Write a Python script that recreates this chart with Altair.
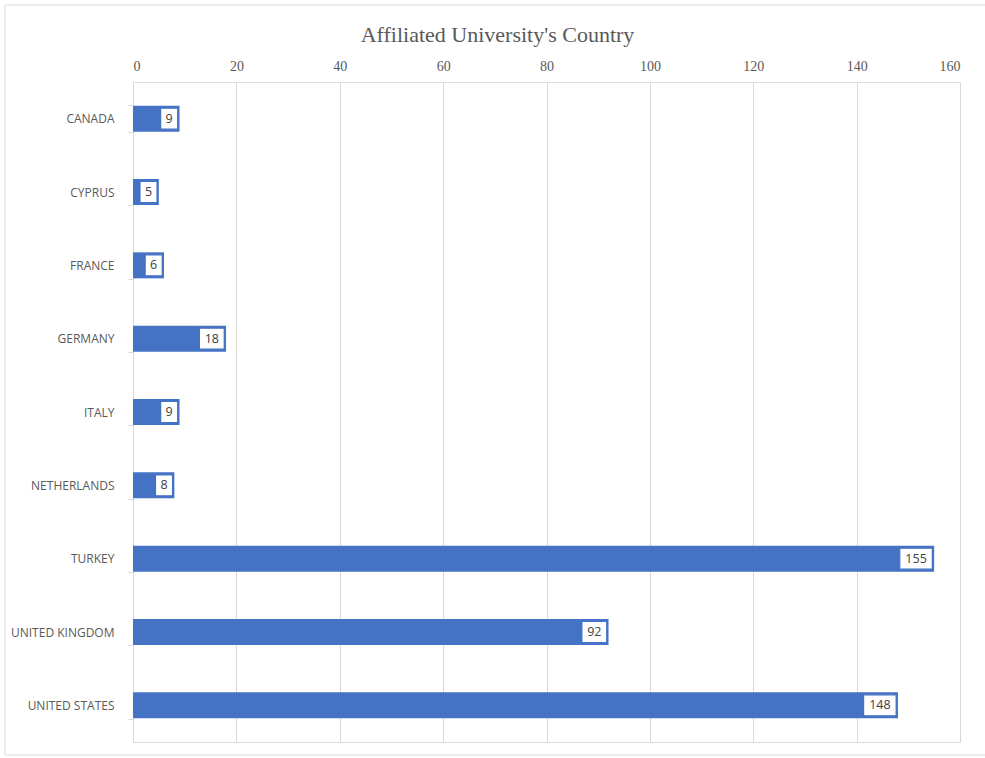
import altair as alt
import pandas as pd

countries = ["CANADA", "CYPRUS", "FRANCE", "GERMANY", "ITALY", "NETHERLANDS",
             "TURKEY", "UNITED KINGDOM", "UNITED STATES"]
counts = [9, 5, 6, 18, 9, 8, 155, 92, 148]

df = pd.DataFrame({"country": countries, "count": counts})

BLUE = "#4472C4"
W, H = 827, 660
PL, PT = 133, 82

x_scale = alt.Scale(domain=[0, 160], nice=False)
y_scale = alt.Scale(domain=countries, paddingInner=0.64, paddingOuter=0.32)

x_axis = alt.Axis(orient="top", values=list(range(0, 161, 20)), grid=True,
                  gridColor="#d9d9d9", gridWidth=1, domain=False, ticks=False,
                  labelFont="Liberation Serif", labelFontSize=14,
                  labelColor="#595959", labelPadding=9, title=None)
y_axis = alt.Axis(domainColor="#d9d9d9", tickColor="#d9d9d9", tickSize=5,
                  tickBand="extent", labelFont="Open Sans", labelFontSize=12,
                  labelColor="#595959", labelPadding=14, title=None, grid=False)

base = alt.Chart(df)

frame = base.mark_rect(fill=None, stroke="#d9d9d9", strokeWidth=1).encode(
    x=alt.value(5 - PL), x2=alt.value(995 - PL),
    y=alt.value(5 - PT), y2=alt.value(755 - PT)
).transform_filter(alt.datum.country == "CANADA")

bars = base.mark_bar(color=BLUE, size=26).encode(
    x=alt.X("count:Q", scale=x_scale, axis=x_axis),
    y=alt.Y("country:N", scale=y_scale, axis=y_axis, sort=countries),
)

boxes = base.transform_calculate(
    x1="datum.count - 0.35 - (1.8 + 1.5 * length('' + datum.count))",
    x2="datum.count - 0.35",
).mark_bar(size=21, fill="white", stroke=BLUE, strokeWidth=1.2).encode(
    x=alt.X("x1:Q", scale=x_scale),
    x2="x2:Q",
    y=alt.Y("country:N", scale=y_scale, sort=countries),
)

labels = base.transform_calculate(
    label="'' + datum.count",
    xc="datum.count - 0.35 - (1.8 + 1.5 * length('' + datum.count)) / 2",
).mark_text(font="Open Sans", fontSize=12.5, color="#404040", align="center",
            baseline="middle").encode(
    x=alt.X("xc:Q", scale=x_scale),
    y=alt.Y("country:N", scale=y_scale, sort=countries),
    text="label:N",
)

chart = alt.layer(frame, bars, boxes, labels).properties(
    width=W, height=H,
    title=alt.TitleParams("Affiliated University's Country", font="Liberation Serif",
                          fontSize=22, fontWeight="normal", color="#595959",
                          anchor="middle", dx=-49, offset=-42),
    autosize="none",
    padding={"left": PL, "top": PT, "right": 985 - PL - W, "bottom": 758 - PT - H},
).configure_view(stroke=None).configure(background="white")

chart.save("out.html", embed_options={"renderer": "svg", "actions": False})
